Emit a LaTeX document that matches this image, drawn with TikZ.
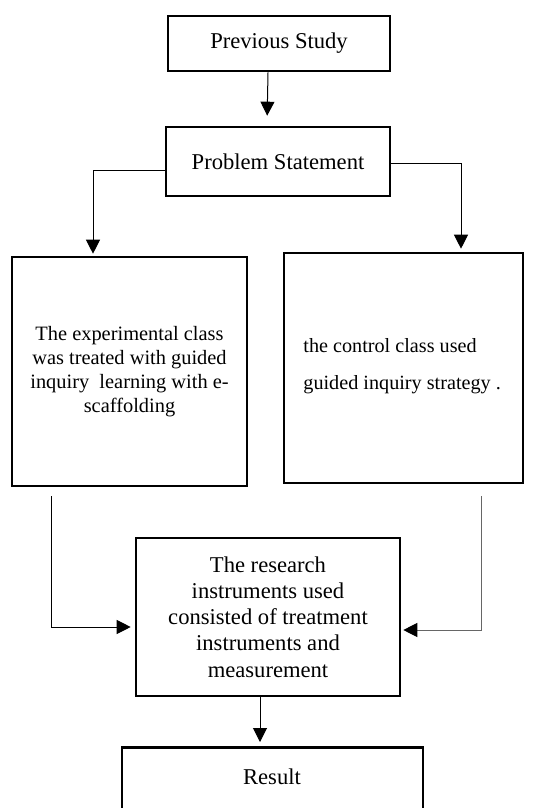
\documentclass[tikz,border=0pt]{standalone}
\usepackage{fontspec}
\setmainfont{Liberation Serif}
\usetikzlibrary{arrows.meta}

\begin{document}
\begin{tikzpicture}[x=0.5pt, y=-0.5pt,
    box/.style={draw, line width=1.3pt, inner sep=0pt, align=center, font=\fontsize{11.3}{13}\selectfont},
    link/.style={line width=0.5pt, -{Triangle[width=7pt,length=7pt]}}]
  \useasboundingbox (0,0) rectangle (547,808);
  % boxes
  \node[box, minimum width=111pt, minimum height=27.5pt] (prev) at (279,43.5) {Previous Study};
  \node[box, minimum width=112pt, minimum height=34.5pt] (prob) at (278,161.5) {Problem Statement};
  \node[box, minimum width=117.5pt, minimum height=114.5pt, font=\fontsize{10.2}{11.9}\selectfont] (exper) at (129.5,371.5)
    {The experimental class\\was treated with guided\\inquiry\ \ learning with e-\\scaffolding};
  \node[box, minimum width=119.5pt, minimum height=115pt] (ctrl) at (403.5,368) {};
  \node[align=left, anchor=west, inner sep=0pt, font=\fontsize{10.1}{18.5}\selectfont] (ctrltext) at (303,366.5)
    {the control class used\\guided inquiry strategy .};
  \node[box, minimum width=132pt, minimum height=79pt, font=\fontsize{11.3}{13.1}\selectfont] (instr) at (268,617)
    {The research\\instruments used\\consisted of treatment\\instruments and\\measurement};
  \node[box, minimum width=150.5pt, minimum height=45pt, anchor=north] (result) at (272.5,746) {};
  \node[font=\fontsize{11.3}{13}\selectfont] (restext) at (272,777) {Result};
  % arrows
  \draw[link, shorten >=5pt] ([xshift=-5.5pt]prev.south) -- ([xshift=-5.5pt]prob.north);
  \draw[link, shorten >=1pt] ([yshift=-4.25pt]prob.west) -| ([xshift=-18.25pt]exper.north);
  \draw[link, shorten >=1.5pt] ([yshift=-0.75pt]prob.east) -| ([xshift=28.75pt]ctrl.north);
  \draw[link, shorten >=2pt] ([xshift=-39.25pt, yshift=-4.5pt]exper.south) |- ([yshift=-5pt]instr.west);
  \draw[link, draw=black!60, -{Triangle[width=7pt,length=7pt,black]}, shorten >=1pt] ([xshift=38.75pt, yshift=-6pt]ctrl.south) |- ([yshift=-6.5pt]instr.east);
  \draw[link, shorten >=2pt] ([xshift=-4pt]instr.south) -- ([xshift=-4pt]instr.south |- result.north);
\end{tikzpicture}
\end{document}
